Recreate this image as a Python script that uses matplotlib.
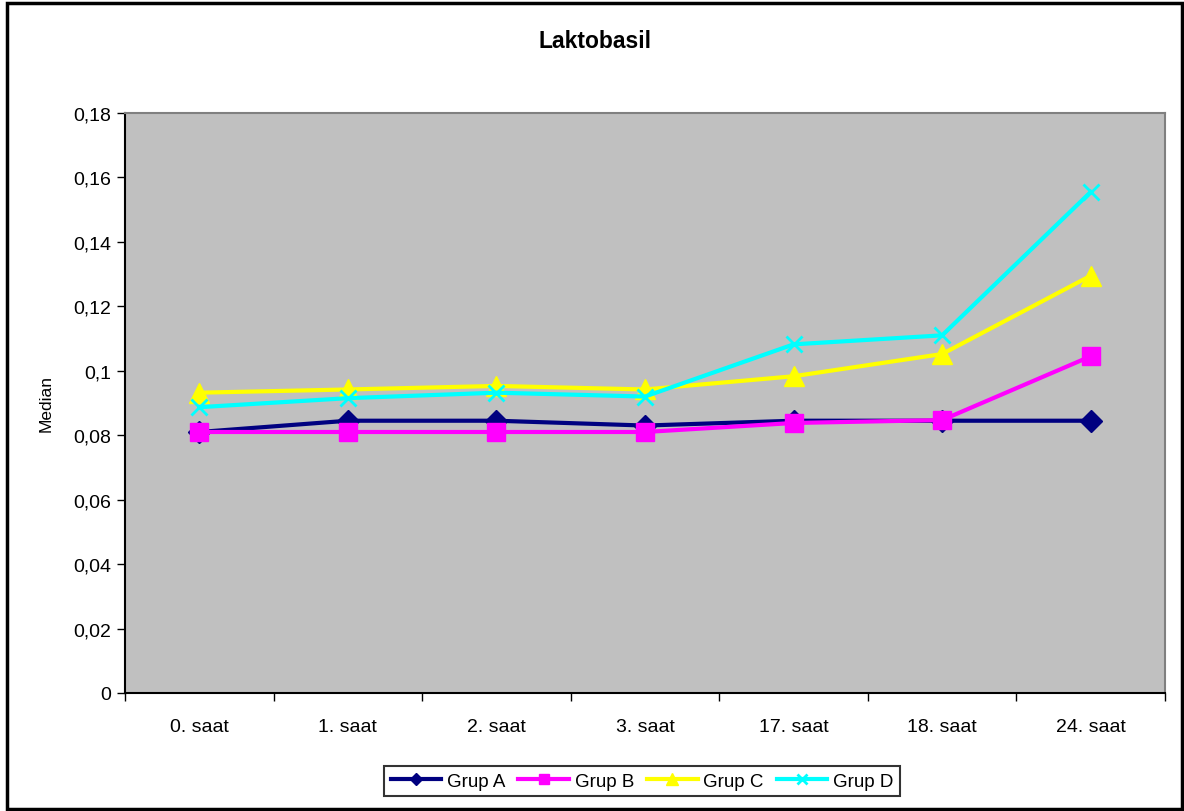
import numpy as np
import matplotlib.pyplot as plt
from matplotlib.patches import Rectangle
from matplotlib.ticker import FuncFormatter

categories = ["0. saat", "1. saat", "2. saat", "3. saat", "17. saat", "18. saat", "24. saat"]
grup_a = [0.081, 0.0845, 0.0845, 0.083, 0.0845, 0.0845, 0.0845]
grup_b = [0.081, 0.081, 0.081, 0.081, 0.0838, 0.0847, 0.1045]
grup_c = [0.0932, 0.0942, 0.0953, 0.0942, 0.0983, 0.1052, 0.1295]
grup_d = [0.0887, 0.0915, 0.0932, 0.092, 0.1082, 0.111, 0.1555]

plt.rcParams['font.family'] = ['Liberation Sans', 'DejaVu Sans']

fig = plt.figure(figsize=(11.84, 8.12), dpi=100)
ax = fig.add_axes([125 / 1184, 1 - 694 / 812, 1040 / 1184, 580 / 812])
ax.set_facecolor('#c0c0c0')

x = np.arange(len(categories))
series = [
    ("Grup A", grup_a, '#000080', 'D', 11, 'fill'),
    ("Grup B", grup_b, '#ff00ff', 's', 13, 'fill'),
    ("Grup C", grup_c, '#ffff00', '^', 14, 'fill'),
    ("Grup D", grup_d, '#00ffff', 'x', 12, 'line'),
]
for name, vals, col, mk, ms, kind in series:
    if kind == 'fill':
        ax.plot(x, vals, color=col, lw=3, marker=mk, ms=ms, mec=col, mfc=col, label=name)
    else:
        ax.plot(x, vals, color=col, lw=3, marker=mk, ms=ms, mew=2, mec=col, label=name)

ax.set_xlim(-0.5, len(categories) - 0.5)
ax.set_ylim(0, 0.18)
ax.set_yticks(np.arange(0, 0.181, 0.02))
ax.yaxis.set_major_formatter(FuncFormatter(
    lambda v, p: "0" if abs(v) < 1e-9 else f"{v:.2f}".rstrip('0').replace('.', ',')))
ax.set_xticks(x)
ax.set_xticklabels(categories)
ax.set_xticks(np.arange(-0.5, len(categories)), minor=True)
ax.tick_params(axis='x', which='major', length=0, pad=18, labelsize=14)
ax.tick_params(axis='x', which='minor', length=6, width=1, direction='out')
ax.tick_params(axis='y', length=6, width=1, direction='out', labelsize=14, pad=4)

for side in ('top', 'right'):
    ax.spines[side].set_color('#808080')
    ax.spines[side].set_linewidth(1.5)
for side in ('left', 'bottom'):
    ax.spines[side].set_color('black')
    ax.spines[side].set_linewidth(1.5)

ax.set_ylabel("Median", fontsize=12.5, labelpad=14)
fig.text(595 / 1184, 1 - 42 / 812, "Laktobasil", ha='center', va='center',
         fontsize=16.5, fontweight='bold')

leg = fig.legend(loc='center', bbox_to_anchor=(642 / 1184, 1 - 782 / 812), ncol=4,
                 frameon=True, fancybox=False, edgecolor='black', fontsize=13.5,
                 handlelength=2.7, handletextpad=0.3, columnspacing=0.7,
                 borderpad=0.35, markerscale=0.6)
leg.get_frame().set_linewidth(1.5)

fig.patches.append(Rectangle((7 / 1184, 2 / 812), 1175 / 1184, 806 / 812,
                             transform=fig.transFigure, fill=False,
                             edgecolor='black', linewidth=2.5))

fig.savefig("out.png", dpi=100)
